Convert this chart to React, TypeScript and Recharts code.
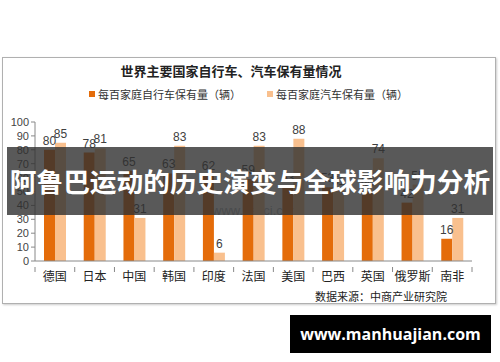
import React from 'react'
import { BarChart, Bar, XAxis, YAxis, LabelList, Legend } from 'recharts'

const countries = ['德国', '日本', '中国', '韩国', '印度', '法国', '美国', '巴西', '英国', '俄罗斯', '南非']
const bikes = [80, 78, 65, 63, 62, 59, 53, 53, 50, 42, 16]
const cars = [85, 81, 31, 83, 6, 83, 88, 51, 74, 55, 31]
const yTicks = [0, 10, 20, 30, 40, 50, 60, 70, 80, 90, 100]

const bikeName = '每百家庭自行车保有量（辆）'
const carName = '每百家庭汽车保有量（辆）'
const title = '世界主要国家自行车、汽车保有量情况'
const source = '数据来源：中商产业研究院'
const banner = '阿鲁巴运动的历史演变与全球影响力分析'
const site = 'www.manhuajian.com'
const mark = 'www.askci.com'

const data = countries.map((c, i) => ({ name: c, bike: bikes[i], car: cars[i] }))

const W = 500
const H = 362
const M = { top: 108, right: 28, bottom: 71, left: 5 }
const YW = 30
const band = (W - M.left - M.right - YW) / countries.length

const font = '"Liberation Sans", Arial, "Noto Sans CJK SC", sans-serif'
const cjk = '"Noto Sans CJK SC", "Liberation Sans", sans-serif'

function CatTick(props: any) {
  const { x, y, payload, index } = props
  const last = index === countries.length - 1
  return (
    <g>
      <line x1={x - band / 2} x2={x - band / 2} y1={y - 2} y2={y + 3} stroke="#888" />
      {last && <line x1={x + band / 2} x2={x + band / 2} y1={y - 2} y2={y + 3} stroke="#888" />}
      <text x={x} y={y + 12} textAnchor="middle" fontSize={12} fill="#222" fontFamily={cjk}>
        {payload.value}
      </text>
    </g>
  )
}

function LegendBox() {
  const items = [
    { label: bikeName, color: '#E46C0A', left: 89 },
    { label: carName, color: '#F9C08E', left: 267 },
  ]
  return (
    <div style={{ position: 'relative', height: 14 }}>
      {items.map((it) => (
        <div
          key={it.label}
          style={{ position: 'absolute', left: it.left, top: 0, display: 'flex', alignItems: 'center', fontSize: 11, fontFamily: cjk, color: '#333', whiteSpace: 'nowrap' }}
        >
          <span style={{ width: 6, height: 6, background: it.color, display: 'inline-block', marginRight: 3 }} />
          {it.label}
        </div>
      ))}
    </div>
  )
}

export default function App() {
  return (
    <div style={{ position: 'absolute', left: 0, top: 0, width: W, height: H, background: '#fff', overflow: 'hidden' }}>
      <div style={{ position: 'absolute', left: 2, top: 57, width: 492, height: 245, border: '1px solid #b0b0b0', boxShadow: '1px 1px 2px #ccc' }} />
      <div style={{ position: 'absolute', left: 0, width: 462, top: 61, textAlign: 'center', fontSize: 13, fontWeight: 'bold', fontFamily: cjk, color: '#222' }}>
        {title}
      </div>
      <div style={{ position: 'absolute', left: 212, top: 203, fontSize: 13, fontFamily: font, color: '#9aa4ad', opacity: 0.8 }}>{mark}</div>
      <div style={{ position: 'absolute', left: 0, top: 0 }}>
        <BarChart width={W} height={H} data={data} margin={M} barGap={0} barSize={11}>
          <Legend verticalAlign="top" wrapperStyle={{ top: 86, left: 0, width: W }} content={() => <LegendBox />} />
          <YAxis
            width={YW}
            domain={[0, 100]}
            ticks={yTicks}
            interval={0}
            axisLine={{ stroke: '#888' }}
            tickLine={{ stroke: '#888' }}
            tickSize={4}
            tick={{ fontSize: 11, fill: '#444', fontFamily: font }}
          />
          <XAxis dataKey="name" interval={0} axisLine={{ stroke: '#888' }} tickLine={false} tick={<CatTick />} height={30} />
          <Bar dataKey="bike" name={bikeName} fill="#E46C0A" isAnimationActive={false}>
            <LabelList dataKey="bike" position="top" offset={5} fontSize={12} fill="#404040" fontFamily={font} />
          </Bar>
          <Bar dataKey="car" name={carName} fill="#F9C08E" isAnimationActive={false}>
            <LabelList dataKey="car" position="top" offset={5} fontSize={12} fill="#404040" fontFamily={font} />
          </Bar>
        </BarChart>
      </div>
      <div style={{ position: 'absolute', right: 53, top: 288, fontSize: 11, fontFamily: cjk, color: '#222' }}>{source}</div>
      <div
        style={{ position: 'absolute', left: 7, top: 147, width: 486, height: 68, background: 'rgba(48,48,48,0.8)', color: '#fff', fontFamily: cjk, fontWeight: 'bold', fontSize: 26.7, lineHeight: '68px', textAlign: 'center', whiteSpace: 'nowrap', overflow: 'visible' }}
      >
        {banner}
      </div>
      <div
        style={{ position: 'absolute', left: 290, top: 315, width: 201, height: 38, background: '#000', color: '#fff', fontFamily: '"Open Sans", "DejaVu Sans", sans-serif', fontWeight: 'bold', fontSize: 16, lineHeight: '38px', textAlign: 'center' }}
      >
        {site}
      </div>
    </div>
  )
}
